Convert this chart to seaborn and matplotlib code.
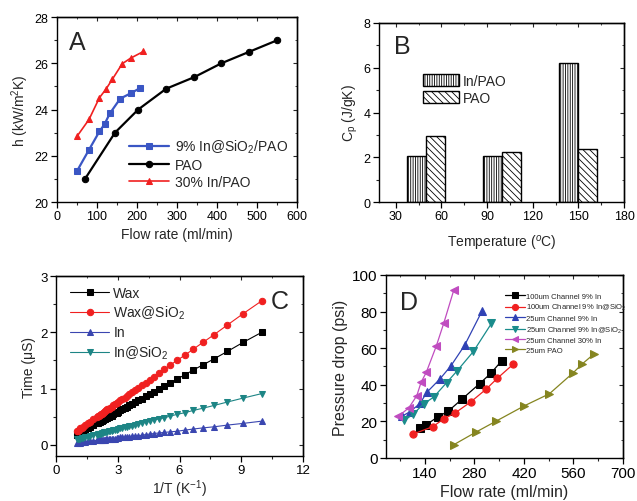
import matplotlib
matplotlib.use("Agg")
import matplotlib.pyplot as plt
import matplotlib.patches as mpatches
from matplotlib.ticker import MultipleLocator
import seaborn as sns
import pandas as pd

sns.set_style("ticks")
plt.rcParams['font.family'] = ['Liberation Sans', 'DejaVu Sans']
plt.rcParams['mathtext.fontset'] = 'custom'
plt.rcParams['mathtext.rm'] = 'Liberation Sans'
plt.rcParams['mathtext.it'] = 'Liberation Sans:italic'
plt.rcParams['hatch.linewidth'] = 0.6
plt.rcParams['axes.linewidth'] = 1.0

# ---------------- Panel A data ----------------
a_pao_x = [70, 145, 203, 273, 343, 411, 481, 551]
a_pao_y = [21.0, 23.0, 24.0, 24.9, 25.4, 26.0, 26.5, 27.0]
a_sio2_x = [50, 80, 106, 119, 132, 158, 184, 208]
a_sio2_y = [21.34, 22.26, 23.05, 23.37, 23.83, 24.47, 24.70, 24.93]
a_in_x = [50, 80, 106, 122, 138, 163, 184, 216]
a_in_y = [22.84, 23.57, 24.51, 24.87, 25.30, 25.98, 26.22, 26.51]

# ---------------- Panel B data ----------------
b_temps = [50, 100, 150]
b_in_pao = [2.07, 2.04, 6.19]
b_pao = [2.97, 2.22, 2.39]
b_labels = ["In/PAO", "PAO"]

# ---------------- Panel C data ----------------
c_x = [10.0, 9.09, 8.33, 7.69, 7.14, 6.67, 6.25, 5.88, 5.56, 5.26,
       5.0, 4.76, 4.55, 4.35, 4.17, 4.0, 3.85, 3.70, 3.57, 3.45,
       3.33, 3.23, 3.13, 3.03, 2.94, 2.86, 2.78, 2.70, 2.63, 2.56,
       2.50, 2.44, 2.38, 2.33, 2.27, 2.22, 2.17, 2.13, 2.08, 2.04,
       2.0, 1.82, 1.67, 1.54, 1.43, 1.33, 1.25, 1.18, 1.11, 1.05, 1.0]
c_wax = [2.00, 1.82, 1.66, 1.53, 1.42, 1.33, 1.24, 1.17, 1.10, 1.04,
         0.99, 0.94, 0.90, 0.86, 0.82, 0.79, 0.76, 0.73, 0.70, 0.68,
         0.65, 0.63, 0.61, 0.59, 0.57, 0.56, 0.54, 0.52, 0.51, 0.50,
         0.48, 0.47, 0.46, 0.45, 0.44, 0.43, 0.42, 0.41, 0.40, 0.39,
         0.38, 0.35, 0.32, 0.29, 0.27, 0.25, 0.23, 0.22, 0.20, 0.19, 0.18]
c_wax_sio2 = [2.56, 2.33, 2.13, 1.96, 1.82, 1.70, 1.59, 1.50, 1.42, 1.34,
              1.27, 1.21, 1.16, 1.10, 1.06, 1.01, 0.97, 0.94, 0.90, 0.87,
              0.84, 0.81, 0.79, 0.76, 0.74, 0.72, 0.70, 0.68, 0.66, 0.64,
              0.63, 0.61, 0.60, 0.58, 0.57, 0.55, 0.54, 0.53, 0.52, 0.51,
              0.50, 0.45, 0.41, 0.38, 0.35, 0.32, 0.30, 0.29, 0.27, 0.25, 0.24]
c_in = [0.42, 0.38, 0.35, 0.32, 0.30, 0.28, 0.26, 0.24, 0.23, 0.22,
        0.21, 0.20, 0.19, 0.18, 0.17, 0.16, 0.16, 0.15, 0.14, 0.14,
        0.13, 0.13, 0.13, 0.12, 0.12, 0.11, 0.11, 0.11, 0.10, 0.10,
        0.10, 0.10, 0.09, 0.09, 0.09, 0.09, 0.08, 0.08, 0.08, 0.08,
        0.08, 0.07, 0.06, 0.06, 0.05, 0.05, 0.05, 0.04, 0.04, 0.04, 0.035]
c_in_sio2 = [0.91, 0.83, 0.76, 0.70, 0.65, 0.61, 0.57, 0.54, 0.51, 0.48,
             0.46, 0.44, 0.42, 0.40, 0.38, 0.37, 0.35, 0.34, 0.33, 0.32,
             0.31, 0.30, 0.29, 0.28, 0.27, 0.26, 0.26, 0.25, 0.24, 0.24,
             0.23, 0.23, 0.22, 0.22, 0.21, 0.21, 0.20, 0.20, 0.19, 0.19,
             0.18, 0.17, 0.16, 0.14, 0.13, 0.12, 0.12, 0.11, 0.10, 0.10, 0.095]

# ---------------- Panel D data ----------------
d_100_in_x = [125, 144, 176, 206, 245, 295, 326, 357]
d_100_in_y = [16.4, 18.2, 22.4, 25.6, 32.2, 40.7, 46.2, 53.1]
d_100_sio2_x = [107, 162, 193, 226, 270, 313, 345, 390]
d_100_sio2_y = [13.1, 17.1, 21.3, 24.7, 30.7, 37.6, 43.6, 51.3]
d_25_in_x = [76, 98, 126, 146, 183, 214, 252, 302]
d_25_in_y = [22.9, 25.3, 29.8, 36.0, 43.3, 50.5, 61.5, 80.5]
d_25_sio2_x = [82, 107, 136, 165, 201, 231, 277, 328]
d_25_sio2_y = [20.5, 24.0, 29.5, 33.3, 41.1, 47.6, 58.2, 73.5]
d_25_30_x = [64, 94, 117, 129, 144, 172, 193, 222]
d_25_30_y = [22.7, 27.3, 34.0, 41.3, 46.9, 61.1, 73.5, 92.0]
d_pao_x = [222, 283, 340, 421, 492, 560, 583, 617]
d_pao_y = [7.3, 14.0, 20.0, 28.5, 35.1, 46.7, 51.1, 56.7]


def style(ax, xmaj, xmin, ymaj, ymin, fs):
    ax.xaxis.set_major_locator(MultipleLocator(xmaj))
    ax.xaxis.set_minor_locator(MultipleLocator(xmin))
    ax.yaxis.set_major_locator(MultipleLocator(ymaj))
    ax.yaxis.set_minor_locator(MultipleLocator(ymin))
    ax.tick_params(which='major', direction='out', length=4, width=0.9,
                   labelsize=fs, colors='black', pad=2)
    ax.tick_params(which='minor', direction='out', length=2, width=0.8)
    for s in ax.spines.values():
        s.set_visible(True)
        s.set_color('black')
        s.set_linewidth(1.0)
    sx = ax.secondary_xaxis('top')
    sx.xaxis.set_major_locator(MultipleLocator(xmaj))
    sx.xaxis.set_minor_locator(MultipleLocator(xmin))
    sx.tick_params(which='major', direction='in', length=3, labeltop=False)
    sx.tick_params(which='minor', direction='in', length=1.5)
    sy = ax.secondary_yaxis('right')
    sy.yaxis.set_major_locator(MultipleLocator(ymaj))
    sy.yaxis.set_minor_locator(MultipleLocator(ymin))
    sy.tick_params(which='major', direction='in', length=3, labelright=False)
    sy.tick_params(which='minor', direction='in', length=1.5)


fig = plt.figure(figsize=(6.37, 5.02), dpi=100)
axA = fig.add_axes([0.0895, 0.5956, 0.3768, 0.3685])
axB = fig.add_axes([0.595, 0.5956, 0.3846, 0.3566])
axC = fig.add_axes([0.0879, 0.0896, 0.3878, 0.3586])
axD = fig.add_axes([0.606, 0.0857, 0.372, 0.3645])

# ---------------- Panel A ----------------
blueA = '#3a56c4'
redA = '#f02020'
sns.lineplot(x=a_sio2_x, y=a_sio2_y, ax=axA, color=blueA, marker='s', markersize=4.2,
             markeredgecolor=blueA, linewidth=1.6, label='9% In@SiO$_2$/PAO')
sns.lineplot(x=a_pao_x, y=a_pao_y, ax=axA, color='black', marker='o', markersize=4.6,
             markeredgecolor='black', linewidth=1.6, label='PAO')
sns.lineplot(x=a_in_x, y=a_in_y, ax=axA, color=redA, marker='^', markersize=4.8,
             markeredgecolor=redA, linewidth=1.2, label='30% In/PAO')
axA.set_xlim(0, 600)
axA.set_ylim(20, 28)
style(axA, 100, 50, 2, 1, 9)
axA.set_xlabel('Flow rate (ml/min)', fontsize=10, labelpad=3)
axA.set_ylabel('h (kW/m$^2$K)', fontsize=10, labelpad=3)
axA.text(0.05, 0.93, 'A', transform=axA.transAxes, fontsize=18, va='top', ha='left')
axA.legend(loc='upper left', bbox_to_anchor=(0.27, 0.385), frameon=False, fontsize=10,
           borderpad=0, handlelength=2.9, handletextpad=0.4, labelspacing=0.2)

# ---------------- Panel B ----------------
dfB = pd.DataFrame({
    'T': b_temps * 2,
    'Cp': b_in_pao + b_pao,
    'sample': [b_labels[0]] * 3 + [b_labels[1]] * 3,
})
sns.barplot(data=dfB, x='T', y='Cp', hue='sample', hue_order=b_labels, native_scale=True,
            width=0.5, palette=['white', 'white'], saturation=1, edgecolor='black',
            linewidth=1.0, errorbar=None, legend=False, ax=axB)
hatches = ['|||||||', '\\\\\\\\\\']
for cont, h in zip(axB.containers, hatches):
    for bar in cont:
        bar.set_hatch(h)
axB.set_xlim(19, 180)
axB.set_ylim(0, 8)
style(axB, 30, 15, 2, 1, 9)
axB.set_xlabel('Temperature ($^o$C)', fontsize=10, labelpad=8)
axB.set_ylabel('C$_\\mathrm{p}$ (J/gK)', fontsize=10, labelpad=3)
axB.text(0.06, 0.94, 'B', transform=axB.transAxes, fontsize=18, va='top', ha='left')
handlesB = [mpatches.Patch(facecolor='white', edgecolor='black', hatch=h, linewidth=1.0)
            for h in hatches]
axB.legend(handlesB, b_labels, loc='upper left', bbox_to_anchor=(0.15, 0.755), frameon=False,
           fontsize=10, borderpad=0, handlelength=2.6, handleheight=0.95,
           handletextpad=0.3, labelspacing=0.2)

# ---------------- Panel C ----------------
redC = '#f02020'
blueC = '#3a46b0'
tealC = '#1d8585'
sns.lineplot(x=c_x, y=c_wax, ax=axC, color='black', marker='s', markersize=4.2,
             markeredgecolor='black', linewidth=0.8, label='Wax')
sns.lineplot(x=c_x, y=c_wax_sio2, ax=axC, color=redC, marker='o', markersize=4.6,
             markeredgecolor=redC, linewidth=0.8, label='Wax@SiO$_2$')
sns.lineplot(x=c_x, y=c_in, ax=axC, color=blueC, marker='^', markersize=4.6,
             markeredgecolor=blueC, linewidth=0.8, label='In')
sns.lineplot(x=c_x, y=c_in_sio2, ax=axC, color=tealC, marker='v', markersize=4.6,
             markeredgecolor=tealC, linewidth=0.8, label='In@SiO$_2$')
axC.set_xlim(0, 12)
axC.set_ylim(-0.2, 3)
style(axC, 3, 1.5, 1, 0.5, 9.5)
axC.set_xlabel('1/T (K$^{-1}$)', fontsize=10, labelpad=1)
axC.set_ylabel('Time (\u03bcS)', fontsize=10, labelpad=3)
axC.text(0.87, 0.93, 'C', transform=axC.transAxes, fontsize=18, va='top', ha='left')
axC.legend(loc='upper left', bbox_to_anchor=(0.03, 0.985), frameon=False, fontsize=10,
           borderpad=0, handlelength=2.8, handletextpad=0.3, labelspacing=0.3)

# ---------------- Panel D ----------------
redD = '#f02020'
blueD = '#3042b4'
tealD = '#1a8c8c'
magD = '#c04cc0'
oliveD = '#858520'
series = [
    (d_100_in_x, d_100_in_y, 'black', 's', '100um Channel 9% In'),
    (d_100_sio2_x, d_100_sio2_y, redD, 'o', '100um Channel 9% In@SiO$_2$'),
    (d_25_in_x, d_25_in_y, blueD, '^', '25um Channel 9% In'),
    (d_25_sio2_x, d_25_sio2_y, tealD, 'v', '25um Channel 9% In@SiO$_2$'),
    (d_25_30_x, d_25_30_y, magD, '<', '25um Channel 30% In'),
    (d_pao_x, d_pao_y, oliveD, '>', '25um PAO'),
]
for xs, ys, col, mk, lab in series:
    sns.lineplot(x=xs, y=ys, ax=axD, color=col, marker=mk, markersize=5.2,
                 markeredgecolor=col, linewidth=0.9, label=lab)
axD.set_xlim(30, 700)
axD.set_ylim(0, 100)
style(axD, 140, 70, 20, 10, 11)
axD.set_xlabel('Flow rate (ml/min)', fontsize=11.5, labelpad=3)
axD.set_ylabel('Pressure drop (psi)', fontsize=11.5, labelpad=3)
axD.text(0.06, 0.92, 'D', transform=axD.transAxes, fontsize=18, va='top', ha='left')
axD.legend(loc='upper left', bbox_to_anchor=(0.485, 0.925), frameon=False, fontsize=5.5,
           borderpad=0, handlelength=2.6, handletextpad=0.2, labelspacing=0.3,
           markerscale=0.85)

fig.savefig('out.png', dpi=100)
